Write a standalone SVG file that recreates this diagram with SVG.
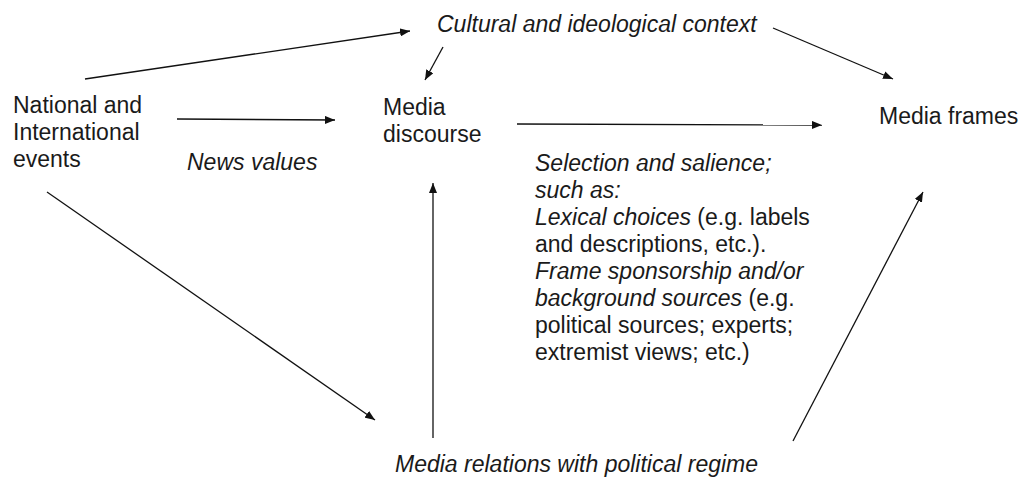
<svg xmlns="http://www.w3.org/2000/svg" width="1026" height="480" viewBox="0 0 1026 480">
<defs>
<marker id="ah" viewBox="0 0 10 8" refX="10" refY="4" markerWidth="10" markerHeight="8" markerUnits="userSpaceOnUse" orient="auto">
<path d="M0,0 L10,4 L0,8 z" fill="#111"/>
</marker>
</defs>
<style>
text{font-family:"Liberation Sans",Arial,sans-serif;font-size:23px;fill:#1a1a1a}
.i{font-style:italic}
.c line{stroke:#111;stroke-width:1.3;marker-end:url(#ah)}
</style>
<rect width="1026" height="480" fill="#fff"/>
<g id="cultural"><text class="i" x="437" y="32">Cultural and ideological context</text></g>
<g id="events"><text x="13" y="113">National and</text><text x="13" y="140">International</text><text x="13" y="167">events</text></g>
<g id="discourse"><text x="383" y="115">Media</text><text x="383" y="142">discourse</text></g>
<g id="frames"><text x="879" y="124">Media frames</text></g>
<g id="newsvalues"><text class="i" x="187" y="170">News values</text></g>
<g id="selection">
<text x="535" y="171" class="i">Selection and salience;</text>
<text x="535" y="198" class="i">such as:</text>
<text x="535" y="225"><tspan class="i">Lexical choices</tspan> (e.g. labels</text>
<text x="535" y="252">and descriptions, etc.).</text>
<text x="535" y="279" class="i">Frame sponsorship and/or</text>
<text x="535" y="306"><tspan class="i">background sources</tspan> (e.g.</text>
<text x="535" y="333">political sources; experts;</text>
<text x="535" y="360">extremist views; etc.)</text>
</g>
<g id="relations"><text class="i" x="395" y="472">Media relations with political regime</text></g>
<g class="c" id="connectors">
<line x1="85" y1="79" x2="410" y2="31"/>
<line x1="443" y1="47" x2="425" y2="80"/>
<line x1="177" y1="119" x2="335" y2="120"/>
<line x1="773" y1="28" x2="893" y2="79"/>
<line x1="517" y1="124" x2="822" y2="125"/>
<line x1="47" y1="192" x2="375" y2="420"/>
<line x1="433" y1="438" x2="433" y2="183"/>
<line x1="793" y1="441" x2="923" y2="192"/>
</g>
</svg>
